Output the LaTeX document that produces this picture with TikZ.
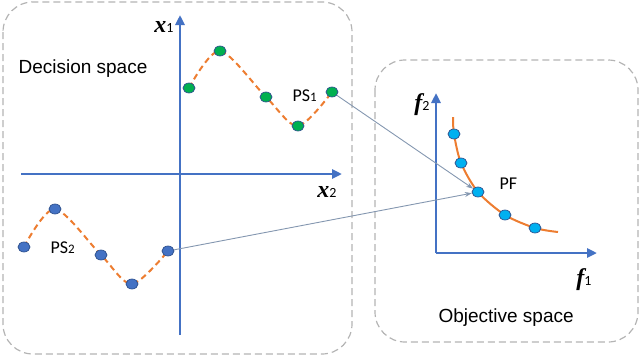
\documentclass[tikz,border=0pt]{standalone}
\definecolor{axblue}{HTML}{4472C4}
\definecolor{dotedge}{HTML}{2F528F}
\definecolor{ptgreen}{HTML}{00B050}
\definecolor{ptcyan}{HTML}{00B0F0}
\definecolor{curveorange}{HTML}{ED7D31}
\definecolor{boxgray}{HTML}{B4B4B4}
\definecolor{linkgray}{HTML}{8497B0}
\usepackage{fontspec}
\setmainfont{Liberation Sans}
\newfontfamily\calfont{Carlito}
\newfontfamily\serfont{Liberation Serif}
\usepackage{tikz}
\usetikzlibrary{arrows.meta,shapes.geometric,backgrounds}

\begin{document}
\begin{tikzpicture}[x=1pt, y=-1pt,
      space/.style={draw=boxgray, dash pattern=on 7pt off 4pt,
                    line width=1.2pt, rounded corners=30pt},
      axis/.style={-{Triangle[length=10pt,width=9pt]}, line width=2.8pt, color=axblue},
      dot/.style={ellipse, draw=dotedge, line width=0.7pt,
                  minimum width=12pt, minimum height=10pt, inner sep=0pt},
      ps/.style={dash pattern=on 6pt off 4pt, line width=2pt, color=curveorange},
      pfc/.style={line width=2pt, color=curveorange},
      arr/.style={-{Stealth[length=7pt,width=5pt]}, line width=0.9pt, color=linkgray},
      big/.style={font=\fontsize{19}{19}\selectfont, anchor=base west},
      tag/.style={font=\calfont\fontsize{18}{18}\selectfont, anchor=base west},
      axlab/.style={font=\serfont\bfseries\itshape\fontsize{24}{24}\selectfont, inner sep=0pt}
  ]
    \useasboundingbox (0,0) rectangle (640,356);
    % the two spaces
    \draw[space] (3,2) rectangle (352,354);
    \draw[space] (375,60) rectangle (638,342);
    \node[big] (dec) at (15,73) {Decision space};
    \node[big] (obj) at (435,322) {Objective space};

    % decision space axes
    \coordinate (x1a) at (180,335); \coordinate (x1b) at (180,15);
    \coordinate (x2a) at (21,174);  \coordinate (x2b) at (342,174);
    \draw[axis] (x1a) -- (x1b);
    \draw[axis] (x2a) -- (x2b);
    \node[axlab] (x1) at (164,27) {x{\calfont\mdseries\upshape\fontsize{14}{14}\selectfont 1}};
    \node[axlab] (x2) at (327,192) {x{\calfont\mdseries\upshape\fontsize{14}{14}\selectfont 2}};

    % PS1 and PS2
    \node[dot, fill=ptgreen] (g1) at (189,88) {};
    \node[dot, fill=ptgreen] (g2) at (220,51) {};
    \node[dot, fill=ptgreen] (g3) at (266,97) {};
    \node[dot, fill=ptgreen] (g4) at (298,126) {};
    \node[dot, fill=ptgreen] (g5) at (332,92) {};
    \node[dot, fill=axblue] (b1) at (24,247) {};
    \node[dot, fill=axblue] (b2) at (55,209) {};
    \node[dot, fill=axblue] (b3) at (101,255) {};
    \node[dot, fill=axblue] (b4) at (132,284) {};
    \node[dot, fill=axblue] (b5) at (168,251) {};
    \node[tag] (ps1) at (289,101) {PS{\fontsize{13}{13}\selectfont 1}};
    \node[tag] (ps2) at (47,253) {PS{\fontsize{13}{13}\selectfont 2}};
    \begin{scope}[on background layer]
      \draw[ps] plot[smooth] coordinates {(g1.center) (g2.center) (g3.center) (g4.center) (g5.center)};
      \draw[ps] plot[smooth] coordinates {(b1.center) (b2.center) (b3.center) (b4.center) (b5.center)};
    \end{scope}

    % objective space
    \coordinate (o) at (436,253); \coordinate (f2b) at (436,93); \coordinate (f1b) at (597,253);
    \draw[axis] (o) -- (f2b);
    \draw[axis] (o) -- (f1b);
    \node[axlab] (f2) at (422,105) {f{\calfont\mdseries\upshape\fontsize{14}{14}\selectfont 2}};
    \node[axlab] (f1) at (584,280) {f{\calfont\mdseries\upshape\fontsize{14}{14}\selectfont 1}};
    \coordinate (pfa) at (453,117); \coordinate (pfb) at (558,232);
    \node[dot, fill=ptcyan] (c1) at (454,134) {};
    \node[dot, fill=ptcyan] (c2) at (461,163) {};
    \node[dot, fill=ptcyan] (pf) at (478,192) {};
    \node[dot, fill=ptcyan] (c4) at (505,215) {};
    \node[dot, fill=ptcyan] (c5) at (535,228) {};
    \node[tag] (pflab) at (496,189) {PF};
    \begin{scope}[on background layer]
      \draw[pfc] plot[smooth] coordinates {(pfa) (c1.center) (c2.center) (pf.center) (c4.center) (c5.center) (pfb)};
    \end{scope}

    % mapping to the front
    \draw[arr] (g5) -- (pf);
    \draw[arr] (b5) -- (pf);
  \end{tikzpicture}
\end{document}
